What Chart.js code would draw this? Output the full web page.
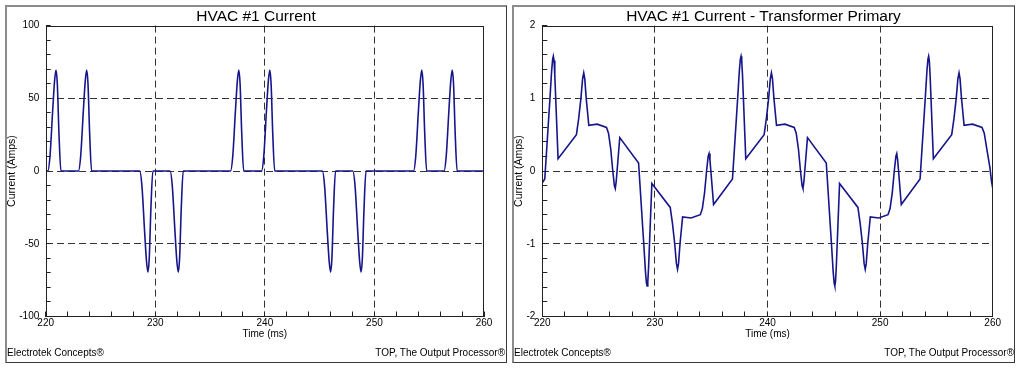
<!DOCTYPE html>
<html><head><meta charset="utf-8">
<script src="https://cdn.jsdelivr.net/npm/chart.js@4.4.1/dist/chart.umd.min.js"></script>
<style>
html,body{margin:0;padding:0;background:#fff;width:1023px;height:370px;overflow:hidden;font-family:"Liberation Sans",Arial,sans-serif;}
.panel{position:absolute;top:5px;height:358px;box-sizing:border-box;border-left:2px solid #8c8c8c;border-top:2px solid #8c8c8c;border-right:1px solid #3a3a3a;border-bottom:1px solid #3a3a3a;}
canvas{position:absolute;top:5px;}
.foot{position:absolute;top:347px;font-size:10px;line-height:12px;color:#000;white-space:nowrap;}
</style></head>
<body>
<div class="panel" style="left:5px;width:502px;"></div>
<div class="panel" style="left:512px;width:503px;"></div>
<canvas id="c1" width="502" height="358" style="left:5px;width:502px;height:358px;"></canvas>
<canvas id="c2" width="503" height="358" style="left:512px;width:503px;height:358px;"></canvas>
<div class="foot" style="left:7px;">Electrotek Concepts®</div>
<div class="foot" style="right:518px;">TOP, The Output Processor®</div>
<div class="foot" style="left:514px;">Electrotek Concepts®</div>
<div class="foot" style="right:9px;">TOP, The Output Processor®</div>
<script>
const xTickLabels = [220, 230, 240, 250, 260];
const xGridLines = [230, 240, 250];
const leftYLabels = [-100, -50, 0, 50, 100];
const leftYGrid = [-50, 0, 50];
const rightYLabels = [-2, -1, 0, 1, 2];
const rightYGrid = [-1, 0, 1];

const leftTime = [220.00,
 220.19,220.39,220.64,220.81,220.94,221.06,221.21,221.39,
 222.99,223.19,223.44,223.61,223.74,223.86,224.01,224.19,
 228.58,228.78,229.03,229.20,229.33,229.45,229.60,229.78,
 231.35,231.55,231.80,231.97,232.10,232.22,232.37,232.55,
 236.87,237.07,237.32,237.49,237.62,237.74,237.89,238.07,
 239.70,239.90,240.15,240.32,240.45,240.57,240.72,240.90,
 245.25,245.45,245.70,245.87,246.00,246.12,246.27,246.45,
 248.03,248.23,248.48,248.65,248.78,248.90,249.05,249.23,
 253.57,253.77,254.02,254.19,254.32,254.44,254.59,254.77,
 256.35,256.55,256.80,256.97,257.10,257.22,257.37,257.55,
 260.00];
const leftAmps = [0,
 0,10,42,62,69.5,60,26,0,
 0,10,42,62,69.5,60,26,0,
 0,-10,-42,-62,-69.5,-60,-26,0,
 0,-10,-42,-62,-69.5,-60,-26,0,
 0,10,42,62,69.5,60,26,0,
 0,10,42,62,69.5,60,26,0,
 0,-10,-42,-62,-69.5,-60,-26,0,
 0,-10,-42,-62,-69.5,-60,-26,0,
 0,10,42,62,69.5,60,26,0,
 0,10,42,62,69.5,60,26,0,
 0];

const rightTime = [220.00,
 220.22,220.68,220.83,220.92,220.98,221.04,221.11,221.40,
 223.03,223.23,223.43,223.58,223.68,223.77,223.90,224.13,224.88,
 225.70,225.88,226.08,226.26,226.40,226.48,226.56,226.64,226.88,
 228.55,229.01,229.16,229.25,229.31,229.37,229.44,229.73,
 231.36,231.56,231.76,231.91,232.01,232.10,232.23,232.46,233.21,
 234.03,234.21,234.41,234.59,234.73,234.81,234.89,234.97,235.21,
 236.89,237.35,237.50,237.59,237.65,237.71,237.78,238.07,
 239.70,239.90,240.10,240.25,240.35,240.44,240.57,240.80,241.55,
 242.37,242.55,242.75,242.93,243.07,243.15,243.23,243.31,243.55,
 245.22,245.68,245.83,245.92,245.98,246.04,246.11,246.40,
 248.03,248.23,248.43,248.58,248.68,248.77,248.90,249.13,249.88,
 250.70,250.88,251.08,251.26,251.40,251.48,251.56,251.64,251.88,
 253.55,254.01,254.16,254.25,254.31,254.37,254.44,254.73,
 256.36,256.56,256.76,256.91,257.01,257.10,257.23,257.46,258.21,
 259.05,259.25,259.50,259.75,259.90,260.00];
const rightAmps = [-0.16,
 -0.11,1.00,1.38,1.54,1.58,1.52,1.32,0.17,
 0.50,0.72,1.00,1.27,1.35,1.27,1.00,0.63,0.645,
 0.60,0.52,0.30,0.00,-0.20,-0.24,-0.15,0.00,0.46,
 0.11,-1.00,-1.38,-1.54,-1.58,-1.52,-1.32,-0.17,
 -0.50,-0.72,-1.00,-1.27,-1.35,-1.27,-1.00,-0.63,-0.645,
 -0.60,-0.52,-0.30,0.00,0.20,0.24,0.15,0.00,-0.46,
 -0.11,1.00,1.38,1.54,1.58,1.52,1.32,0.17,
 0.50,0.72,1.00,1.27,1.35,1.27,1.00,0.63,0.645,
 0.60,0.52,0.30,0.00,-0.20,-0.24,-0.15,0.00,0.46,
 0.11,-1.00,-1.38,-1.54,-1.58,-1.52,-1.32,-0.17,
 -0.50,-0.72,-1.00,-1.27,-1.35,-1.27,-1.00,-0.63,-0.645,
 -0.60,-0.52,-0.30,0.00,0.20,0.24,0.15,0.00,-0.46,
 -0.11,1.00,1.38,1.54,1.58,1.52,1.32,0.17,
 0.50,0.72,1.00,1.27,1.35,1.27,1.00,0.63,0.645,
 0.60,0.52,0.28,0.05,-0.15,-0.23];

const FONT = '"Liberation Sans", Arial, sans-serif';
const near = (v, list) => list.some(u => Math.abs(u - v) < 1e-6);

const framePlugin = {
  id: 'frame',
  afterDatasetsDraw(chart) {
    const {ctx, chartArea: a} = chart;
    const l = Math.round(a.left) + 0.5, t = Math.round(a.top) + 0.5;
    const r = Math.round(a.right) - 0.5, b = Math.round(a.bottom) - 0.5;
    ctx.save();
    ctx.strokeStyle = '#222';
    ctx.lineWidth = 1;
    ctx.setLineDash([]);
    ctx.strokeRect(l, t, r - l, b - t);
    ctx.restore();
  }
};

function makeChart(id, times, values, o) {
  const pts = times.map((t, i) => ({x: t, y: values[i]}));
  return new Chart(document.getElementById(id), {
    type: 'line',
    data: {datasets: [{data: pts, borderColor: '#16168a', borderWidth: 1.6, pointRadius: 0,
      tension: 0, cubicInterpolationMode: o.cubic, fill: false}]},
    options: {
      responsive: false, animation: false, devicePixelRatio: 1, events: [],
      layout: {padding: 0},
      plugins: {
        legend: {display: false}, tooltip: {enabled: false},
        title: {display: true, text: o.title, color: '#000',
          font: {family: FONT, size: 15.5, weight: 'normal'}, padding: {top: 2, bottom: 0}}
      },
      scales: {
        x: {
          type: 'linear', position: 'bottom', min: 220, max: 260,
          ticks: {stepSize: 2, maxTicksLimit: 100, autoSkip: false, maxRotation: 0, color: '#000',
            font: {family: FONT, size: 10}, padding: 5.5,
            callback: v => near(v, xTickLabels) ? String(v) : ''},
          grid: {color: c => (c.tick && near(c.tick.value, xGridLines)) ? '#333' : 'rgba(0,0,0,0)',
            lineWidth: 1, tickColor: '#222', tickLength: -5, tickWidth: 1},
          border: {display: false, dash: [7, 4]},
          title: {display: true, text: 'Time (ms)', color: '#000',
            font: {family: FONT, size: 10}, padding: {top: 0, bottom: 23}},
          afterFit: s => { s.height = 46.5; }
        },
        y: {
          type: 'linear', position: 'left', min: o.ymin, max: o.ymax,
          ticks: {stepSize: o.ystep, maxTicksLimit: 100, autoSkip: false, color: '#000',
            font: {family: FONT, size: 10}, padding: o.yTickPad,
            callback: v => near(v, o.yLabels) ? String(v) : ''},
          grid: {color: c => (c.tick && near(c.tick.value, o.yGrid)) ? '#333' : 'rgba(0,0,0,0)',
            lineWidth: 1, tickColor: '#222', tickLength: -5, tickWidth: 1},
          border: {display: false, dash: [7, 4]},
          title: {display: true, text: 'Current (Amps)', color: '#000',
            font: {family: FONT, size: 10.5}, padding: {top: 0.5, bottom: 0}},
          afterFit: s => { s.width = o.yAxisW; }
        },
        pad: {
          type: 'linear', position: 'right', display: true,
          ticks: {display: false}, grid: {display: false}, border: {display: false},
          afterFit: s => { s.width = o.padR; }
        }
      }
    },
    plugins: [framePlugin]
  });
}

makeChart('c1', leftTime, leftAmps, {
  title: 'HVAC #1 Current', cubic: 'monotone',
  ymin: -100, ymax: 100, ystep: 10, yLabels: leftYLabels, yGrid: leftYGrid,
  yAxisW: 40.7, padR: 23, yTickPad: 11.4
});
makeChart('c2', rightTime, rightAmps, {
  title: 'HVAC #1 Current - Transformer Primary', cubic: 'default',
  ymin: -2, ymax: 2, ystep: 0.2, yLabels: rightYLabels, yGrid: rightYGrid,
  yAxisW: 30.3, padR: 22.3, yTickPad: 12
});
</script>
</body></html>
